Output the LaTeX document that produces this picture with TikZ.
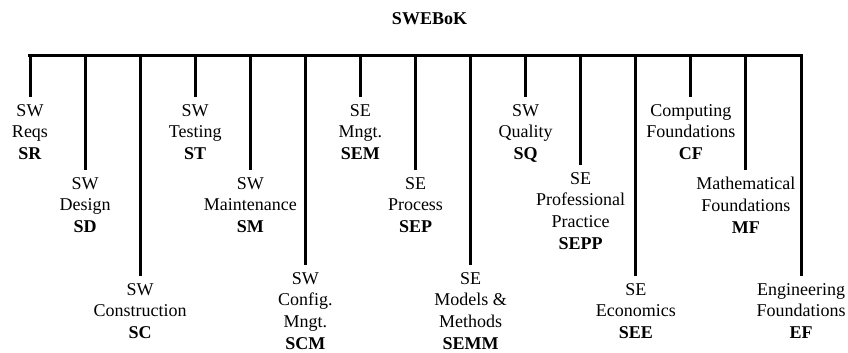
\documentclass[tikz,border=0pt]{standalone}
\usepackage{fontspec}
\setmainfont{Liberation Serif}
\begin{document}
\begin{tikzpicture}[x=1pt,y=-1pt,
  area/.style={anchor=north, align=center, inner xsep=0pt, inner ysep=7pt,
    font=\fontsize{18}{21.8}\selectfont},
  trunk/.style={line width=3.6pt, line cap=rect},
  drop/.style={line width=3pt}]
\useasboundingbox (0,0) rectangle (848,353);

% title
\node[anchor=base, inner sep=0pt, font=\fontsize{18}{21.8}\selectfont\bfseries] (root) at (429.5,25) {SWEBoK};

% branch points on the trunk
\coordinate (bSR)   at (30,55.5);
\coordinate (bSD)   at (85.1,55.5);
\coordinate (bSC)   at (140.1,55.5);
\coordinate (bST)   at (195.2,55.5);
\coordinate (bSM)   at (250.3,55.5);
\coordinate (bSCM)  at (305.4,55.5);
\coordinate (bSEM)  at (360.4,55.5);
\coordinate (bSEP)  at (415.5,55.5);
\coordinate (bSEMM) at (470.6,55.5);
\coordinate (bSQ)   at (525.6,55.5);
\coordinate (bSEPP) at (580.7,55.5);
\coordinate (bSEE)  at (635.8,55.5);
\coordinate (bCF)   at (690.8,55.5);
\coordinate (bMF)   at (745.9,55.5);
\coordinate (bEF)   at (801,55.5);

% knowledge areas
\node[area] (SR)   at (30,97)    {SW\\Reqs\\\textbf{SR}};
\node[area] (SD)   at (85.1,170) {SW\\Design\\\textbf{SD}};
\node[area] (SC)   at (140.1,276) {SW\\Construction\\\textbf{SC}};
\node[area] (ST)   at (195.2,97) {SW\\Testing\\\textbf{ST}};
\node[area] (SM)   at (250.3,170) {SW\\Maintenance\\\textbf{SM}};
\node[area] (SCM)  at (305.4,265) {SW\\Config.\\Mngt.\\\textbf{SCM}};
\node[area] (SEM)  at (360.4,97) {SE\\Mngt.\\\textbf{SEM}};
\node[area] (SEP)  at (415.5,170) {SE\\Process\\\textbf{SEP}};
\node[area] (SEMM) at (470.6,265) {SE\\Models \&\\Methods\\\textbf{SEMM}};
\node[area] (SQ)   at (525.6,97) {SW\\Quality\\\textbf{SQ}};
\node[area] (SEPP) at (580.7,165) {SE\\Professional\\Practice\\\textbf{SEPP}};
\node[area] (SEE)  at (635.8,276) {SE\\Economics\\\textbf{SEE}};
\node[area] (CF)   at (690.8,97) {Computing\\Foundations\\\textbf{CF}};
\node[area] (MF)   at (745.9,170) {Mathematical\\Foundations\\\textbf{MF}};
\node[area] (EF)   at (801,276) {Engineering\\Foundations\\\textbf{EF}};

% trunk and drops
\draw[trunk] (bSR) -- (bEF);
\foreach \k in {SR,SD,SC,ST,SM,SCM,SEM,SEP,SEMM,SQ,SEPP,SEE,CF,MF,EF}
  \draw[drop] (b\k) -- (\k.north);
\end{tikzpicture}
\end{document}
